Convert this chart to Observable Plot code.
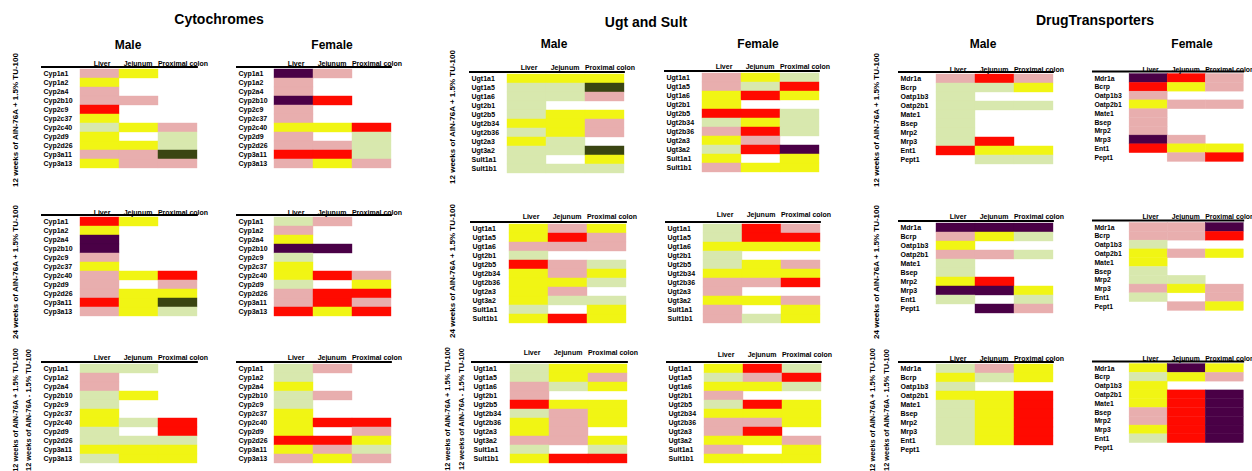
<!DOCTYPE html>
<html><head><meta charset="utf-8">
<script src="https://cdn.jsdelivr.net/npm/d3@7"></script>
<script src="https://cdn.jsdelivr.net/npm/@observablehq/plot@0.6"></script>
<style>
body{margin:0;background:#fff;}
#root{position:relative;width:1252px;height:471px;overflow:hidden;font-family:"Liberation Sans",Arial,sans-serif;color:#000;}
.t{position:absolute;font-weight:bold;white-space:nowrap;transform:translate(-50%,-50%);line-height:1;}
.rot{position:absolute;font-weight:bold;white-space:nowrap;transform:translate(-50%,-50%) rotate(-90deg);line-height:1;}
.panel{position:absolute;}
.panel svg{overflow:visible;}
</style></head><body><div id="root"></div>
<script>
// ---- categories ----
const tissues = ["Liver", "Jejunum", "Proximal colon"];
const cypGenes = ["Cyp1a1","Cyp1a2","Cyp2a4","Cyp2b10","Cyp2c9","Cyp2c37","Cyp2c40","Cyp2d9","Cyp2d26","Cyp3a11","Cyp3a13"];
const ugtGenes = ["Ugt1a1","Ugt1a5","Ugt1a6","Ugt2b1","Ugt2b5","Ugt2b34","Ugt2b36","Ugt2a3","Ugt3a2","Sult1a1","Sult1b1"];
const dtGenes  = ["Mdr1a","Bcrp","Oatp1b3","Oatp2b1","Mate1","Bsep","Mrp2","Mrp3","Ent1","Pept1"];
const groupTitles = ["Cytochromes", "Ugt and Sult", "DrugTransporters"];
const sexes = ["Male", "Female"];
const rowLabels = [["12 weeks of AIN-76A + 1.5% TU-100"], ["24 weeks of AIN-76A + 1.5% TU-100"], ["12 weeks of AIN-76A + 1.5% TU-100", "12 weeks of AIN-76A - 1.5% TU-100"]];

// ---- level codes (one letter per tissue: Liver, Jejunum, Proximal colon; "_" = not measured) ----
const levels  = ["P", "Y", "G", "R", "D", "O"];
const palette = ["#e8aeae", "#f1f514", "#d8e8ae", "#ff0a00", "#4a0046", "#3a4512"];

// Cytochromes
const cypM1 = ["PY_","Y__","P__","PP_","R__","Y__","GYP","Y_G","YYG","PPO","YPP"];
const cypF1 = ["DP_","P__","P__","DR_","P__","P__","YYR","P_G","PPG","RRG","PYP"];
const cypM2 = ["RY_","Y__","D__","D__","P__","Y__","PYR","P_P","PYY","RYO","PYG"];
const cypF2 = ["GP_","P__","Y__","DD_","G__","Y__","YRP","G_Y","PRR","PRP","RYR"];
const cypM3 = ["GG_","P__","P__","GY_","G__","Y__","YGR","G_R","GGG","YYY","GYY"];
const cypF3 = ["GP_","G__","Y__","GP_","G__","Y__","YRR","Y_P","RRY","YPG","PYP"];
// Ugt and Sult
const ugtM1 = ["YYY","GGO","GGP","G__","GYY","YYP","GYP","YG_","GGO","G_Y","GGG"];
const ugtF1 = ["PYG","PGR","YRY","Y__","RRG","GYG","PRG","YP_","GRD","Y_Y","PYY"];
const ugtM2 = ["YPY","YRP","PPP","G__","RPG","YPY","YYG","YP_","YGG","G_Y","YRY"];
const ugtF2 = ["GRP","GRR","YYY","G__","GYP","YYY","PPR","P__","YYP","P_Y","PGY"];
const ugtM3 = ["GYY","GYP","PGY","P__","RYY","GPY","YPY","YP_","PPY","G_G","YRR"];
const ugtF3 = ["YRG","GPR","YYG","P__","GRY","YYY","PPY","PR_","YYP","P_Y","YYY"];
// Drug transporters
const dtM1 = ["PRP","GGY","G__","GGG","G__","G__","G__","GR_","RYY","_GG"];
const dtF1 = ["DRP","RYP","P__","YPP","P__","P__","P__","DP_","RYY","_PR"];
const dtM2 = ["DDD","PYG","Y__","PPG","G__","G__","YR_","DDY","G_G","_DP"];
const dtF2 = ["PPD","PPR","G__","YPY","Y__","G__","GG_","PYP","G_P","_PY"];
const dtM3 = ["GPY","YGY","G__","YYR","GYR","GYR","GYR","GYR","GYR","___"];
const dtF3 = ["YDY","GYP","Y__","YRD","YRD","PRD","PRD","YRD","GRD","___"];

// ---- layout (page placement only) ----
const panels = [
  {genes: cypGenes, data: cypM1, lx: 41,  cx: 80,   top: 68,    hdr: 6},
  {genes: cypGenes, data: cypF1, lx: 236, cx: 274,  top: 68,    hdr: 6},
  {genes: ugtGenes, data: ugtM1, lx: 469, cx: 507,  top: 73,    hdr: 6.5},
  {genes: ugtGenes, data: ugtF1, lx: 664, cx: 702,  top: 72,    hdr: 7},
  {genes: dtGenes,  data: dtM1,  lx: 898, cx: 936,  top: 73,    hdr: 4.5},
  {genes: dtGenes,  data: dtF1,  lx: 1092, cx: 1130, top: 73,   hdr: 4.5},

  {genes: cypGenes, data: cypM2, lx: 41,  cx: 80,   top: 216,   hdr: 4.5},
  {genes: cypGenes, data: cypF2, lx: 236, cx: 274,  top: 216,   hdr: 4.5},
  {genes: ugtGenes, data: ugtM2, lx: 470, cx: 509,  top: 223,   hdr: 8},
  {genes: ugtGenes, data: ugtF2, lx: 665, cx: 703,  top: 223,   hdr: 10},
  {genes: dtGenes,  data: dtM2,  lx: 898, cx: 936,  top: 222,   hdr: 6.5},
  {genes: dtGenes,  data: dtF2,  lx: 1092, cx: 1130, top: 222,  hdr: 6.5},

  {genes: cypGenes, data: cypM3, lx: 41,  cx: 80,   top: 363,   hdr: 6.5},
  {genes: cypGenes, data: cypF3, lx: 236, cx: 274,  top: 363,   hdr: 6.5},
  {genes: ugtGenes, data: ugtM3, lx: 471, cx: 510,  top: 362.7, hdr: 12},
  {genes: ugtGenes, data: ugtF3, lx: 666, cx: 704,  top: 362.7, hdr: 10},
  {genes: dtGenes,  data: dtM3,  lx: 898, cx: 936,  top: 363,   hdr: 5.7},
  {genes: dtGenes,  data: dtF3,  lx: 1092, cx: 1130, top: 363,  hdr: 5.7}
];
const headerShift = [2, -1, 5];

const root = document.getElementById("root");
const FONT = '"Liberation Sans", Arial, Helvetica, sans-serif';
const ROWH = 9.1, COLW = 39.3;

function heat(p) {
  const n = p.genes.length;
  const left = p.lx - 1;
  const mL = p.cx - left, mT = 18, mR = 8, mB = 1;
  const w = mL + 3 * COLW + mR;
  const h = mT + n * ROWH + mB;
  const rows = [];
  p.genes.forEach((g, i) => {
    tissues.forEach((t, j) => {
      const c = p.data[i][j];
      if (c !== "_") rows.push({gene: g, tissue: t, level: c});
    });
  });
  const headerLine = () => {
    const l = document.createElementNS("http://www.w3.org/2000/svg", "line");
    l.setAttribute("x1", 1);
    l.setAttribute("x2", w - mR);
    l.setAttribute("y1", mT - 1);
    l.setAttribute("y2", mT - 1);
    l.setAttribute("stroke", "#000");
    l.setAttribute("stroke-width", 2);
    return l;
  };
  const headerAxes = tissues.map((t, j) => Plot.axisX({
    anchor: "top", ticks: [t], tickSize: 0, tickPadding: p.hdr - 3.2, dx: headerShift[j],
    label: null, fontSize: 7, fontWeight: "bold", fill: "#000"
  }));
  const chart = Plot.plot({
    width: w, height: h,
    marginLeft: mL, marginRight: mR, marginTop: mT, marginBottom: mB,
    style: {fontFamily: FONT, fontSize: "7px", fontWeight: "bold", color: "#000", background: "transparent"},
    x: {type: "band", domain: tissues, padding: 0},
    y: {type: "band", domain: p.genes, padding: 0},
    color: {type: "ordinal", domain: levels, range: palette},
    marks: [
      Plot.cell(rows, {x: "tissue", y: "gene", fill: "level", stroke: "level", strokeWidth: 0.4, inset: 0}),
      ...headerAxes,
      Plot.axisY({anchor: "left", tickSize: 0, tickPadding: 0, textAnchor: "start", dx: -(mL - 3), label: null, fontSize: 7, fontWeight: "bold", fill: "#000"}),
      headerLine
    ]
  });
  const div = document.createElement("div");
  div.className = "panel";
  div.style.left = left + "px";
  div.style.top = (p.top - mT) + "px";
  div.appendChild(chart);
  root.appendChild(div);
}
panels.forEach(heat);

function addText(txt, x, y, size, cls) {
  const d = document.createElement("div");
  d.className = cls || "t";
  d.textContent = txt;
  d.style.left = x + "px";
  d.style.top = y + "px";
  d.style.fontSize = size + "px";
  root.appendChild(d);
}
// group titles
[[219, 19], [646, 22], [1095, 20]].forEach((pos, i) => addText(groupTitles[i], pos[0], pos[1], 14));
// sex titles
[[128, 45, 332, 45], [554, 44, 758, 44], [983, 44, 1192, 44]].forEach(pos => {
  addText(sexes[0], pos[0], pos[1], 12);
  addText(sexes[1], pos[2], pos[3], 12);
});
// row labels (rotated)
const rowLabelX = [[15.5], [453], [877]];
const rowCentersY = [[120, 272, 410], [117, 271, 409], [120, 272, 410]];
const row3X = [[16, 29], [448, 462], [873, 887]];
for (let g = 0; g < 3; g++) {
  addText(rowLabels[0][0], rowLabelX[g][0], rowCentersY[g][0], 8, "rot");
  addText(rowLabels[1][0], rowLabelX[g][0], rowCentersY[g][1], 8, "rot");
  addText(rowLabels[2][0], row3X[g][0], rowCentersY[g][2], 7.4, "rot");
  addText(rowLabels[2][1], row3X[g][1], rowCentersY[g][2], 7.4, "rot");
}
</script></body></html>
